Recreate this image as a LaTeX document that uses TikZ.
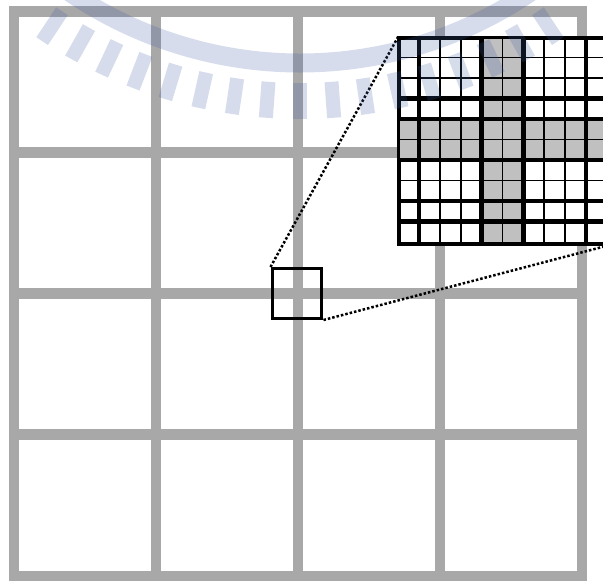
\documentclass[tikz,border=0pt]{standalone}
\usepackage{tikz}
\usetikzlibrary{positioning, calc}
\definecolor{gridgray}{RGB}{168,168,168}
\definecolor{bandgray}{RGB}{192,192,192}
\definecolor{markblue}{RGB}{60,90,160}
\tikzset{
  cellgrid/.style={draw=gridgray, line width=0.22cm},
  magbox/.style={rectangle, draw=black, line width=0.06cm,
    minimum size=1.0cm, inner sep=0pt},
  zoombox/.style={rectangle, draw=black, line width=0.06cm, fill=white,
    minimum width=4.18cm, minimum height=4.1cm, inner sep=0pt},
  thinrule/.style={black, line width=0.035cm},
  thickrule/.style={black, line width=0.09cm},
  guide/.style={black, line width=0.05cm, dash pattern=on 0.05cm off 0.04cm},
  crest/.style={draw=markblue, draw opacity=0.21}
}

\begin{document}
\begin{tikzpicture}[x=0.02cm, y=-0.02cm]
  \useasboundingbox (0,0) rectangle (603,581);

  % coarse grid
  \draw[cellgrid] (14,12) rectangle (582,576);
  \foreach \gx in {156,298,440}
    \draw[cellgrid] (\gx,12) -- (\gx,576);
  \foreach \gy in {153,294,435}
    \draw[cellgrid] (14,\gy) -- (582,\gy);

  \node[magbox] (mag) at (297,293.5) {};
  \node[zoombox] (zoom) at (504,141) {};

  \draw[guide] (mag.north west) -- (zoom.north west);
  \draw[guide] (mag.south east) -- (zoom.south east);

  % magnified view
  \begin{scope}[shift={(zoom.north west)}, x=0.418cm, y=-0.41cm]
    \fill[bandgray] (4,0) rectangle (6,10);
    \fill[bandgray] (0,4) rectangle (10,6);
    \foreach \k in {1,...,9} {
      \draw[thinrule] (\k,0) -- (\k,10);
      \draw[thinrule] (0,\k) -- (10,\k);
    }
    \foreach \k in {1,4,6,9}
      \draw[thickrule] (\k,0) -- (\k,10);
    \foreach \k in {3,4,6,8,9}
      \draw[thickrule] (0,\k) -- (10,\k);
  \end{scope}
  \draw[black, line width=0.06cm] (zoom.north west) rectangle (zoom.south east);

  % watermark
  \coordinate (seal) at (300,-347);
  \draw[crest, line width=0.38cm] ([shift={(40:410)}]seal)
    arc[start angle=40, end angle=140, radius=410];
  \foreach \a in {-8,...,8}
    \draw[crest, line width=0.28cm] ($(seal)+(90+4.2*\a:430)$) -- ($(seal)+(90+4.2*\a:466)$);
\end{tikzpicture}
\end{document}
